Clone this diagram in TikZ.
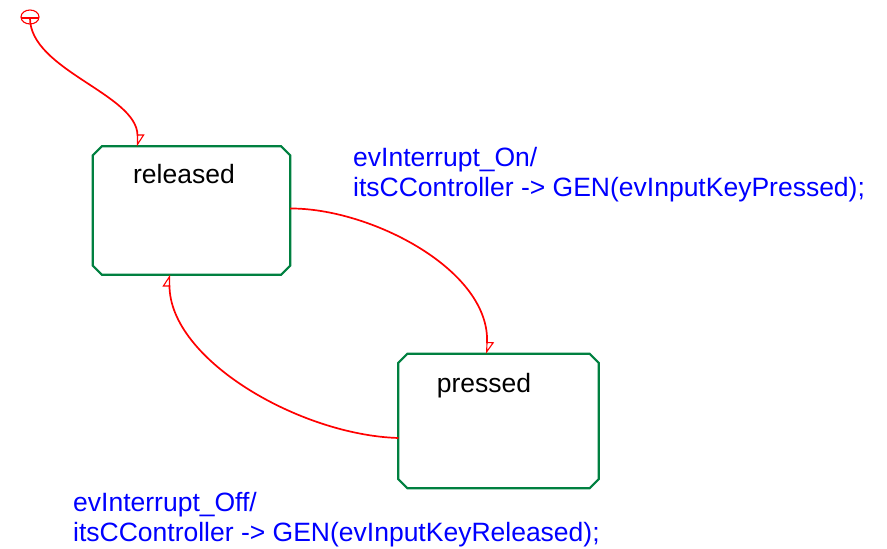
\documentclass[tikz,border=0pt]{standalone}
\usepackage{fontspec}
\setmainfont{Liberation Sans}
\usetikzlibrary{arrows.meta}

% outline of a state with cut corners
\newcommand{\stateframe}[1]{
	\draw [stateline] ([xshift = 9pt]#1.north west) -- ([xshift = -9pt]#1.north east) -- ([yshift = -9pt]#1.north east)
		-- ([yshift = 9pt]#1.south east) -- ([xshift = -9pt]#1.south east) -- ([xshift = 9pt]#1.south west)
		-- ([yshift = 9pt]#1.south west) -- ([yshift = -9pt]#1.north west) -- cycle;
}

\begin{document}
\begin{tikzpicture}[x = 1pt, y = -1pt,
	state/.style = {rectangle, draw = none, inner sep = 0pt},
	stateline/.style = {draw = stgreen, line width = 2.2pt},
	trans/.style = {color = red, line width = 1.7pt, -{Triangle[open, harpoon, length = 11pt, width = 14pt, line width = 1.1pt]}},
	act/.style = {color = blue, align = left, anchor = north west, inner sep = 0pt, font = \fontsize{26.5}{30}\selectfont}]
	\definecolor{stgreen}{RGB}{0,128,64}
	\useasboundingbox (0,0) rectangle (887,549);
	% states
	\node [state, minimum width = 197pt, minimum height = 128pt] (rel) at (191.5,210.5) {};
	\node [state, minimum width = 200pt, minimum height = 134pt] (pr) at (498.5,421) {};
	\stateframe{rel}
	\stateframe{pr}
	\node [anchor = base, font = \fontsize{26.5}{30}\selectfont] (relname) at (184,183) {released};
	\node [anchor = base, font = \fontsize{26.5}{30}\selectfont] (prname) at (484,392) {pressed};
	% default transition
	\draw [color = red, line width = 1.1pt] (30,17) ellipse (9 and 7);
	\draw [color = red, line width = 1.1pt] (21,18) -- (39,18);
	\coordinate (init) at (30,18);
	\draw [trans] (init) .. controls (30,70) and ([xshift = -54pt, yshift = 52pt]rel.north) .. ([xshift = -54pt]rel.north);
	% transitions
	\draw [trans] ([yshift = 2pt]rel.east) .. controls (370,208) and ([xshift = -8pt, yshift = 84pt]pr.north) .. ([xshift = -12pt]pr.north);
	\draw [trans] ([yshift = -17pt]pr.west) .. controls (300,435) and ([xshift = -22pt, yshift = -85pt]rel.south) .. ([xshift = -22pt]rel.south);
	% actions
	\node [act] (onlabel) at (353,147) {evInterrupt\_On/\\itsCController -> GEN(evInputKeyPressed);};
	\node [act] (offlabel) at (73,492) {evInterrupt\_Off/\\itsCController -> GEN(evInputKeyReleased);};
\end{tikzpicture}
\end{document}
